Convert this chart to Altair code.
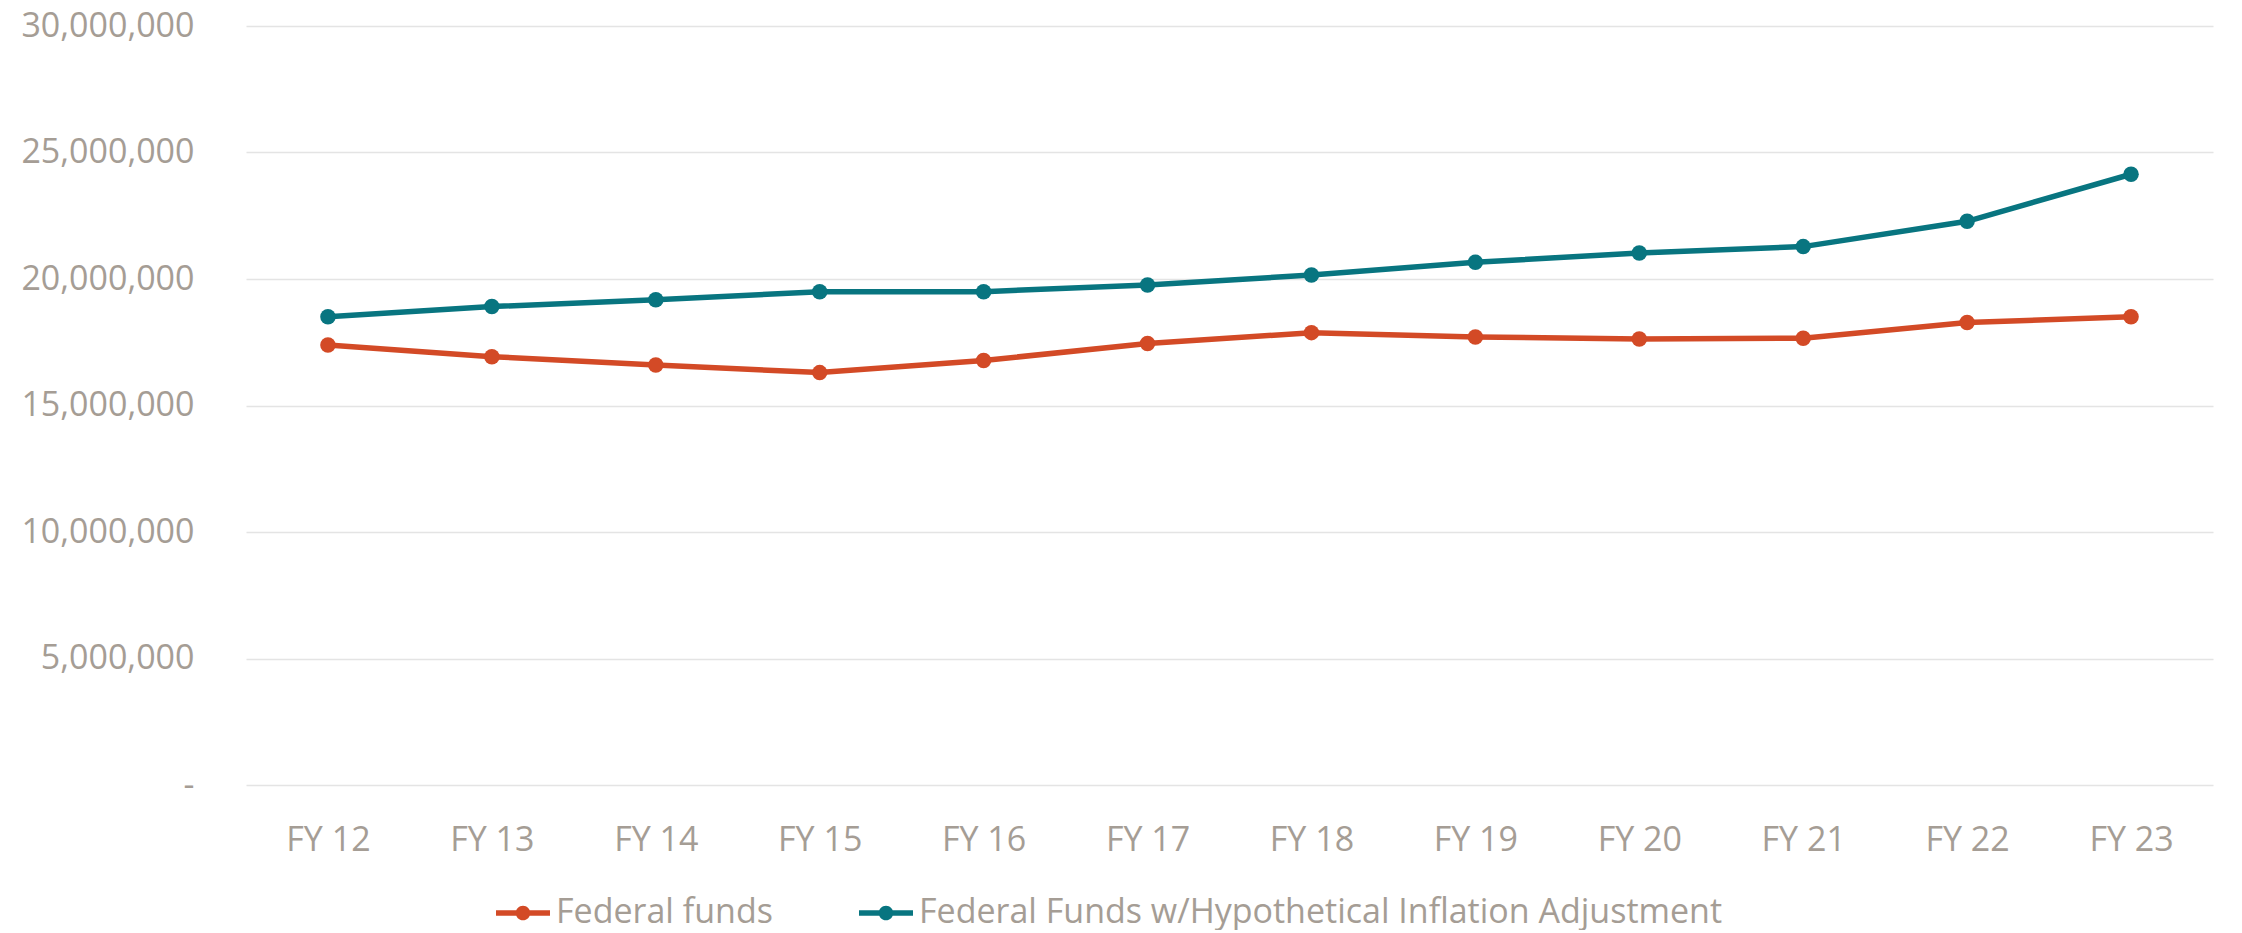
import altair as alt
import pandas as pd

years = ["FY 12", "FY 13", "FY 14", "FY 15", "FY 16", "FY 17",
         "FY 18", "FY 19", "FY 20", "FY 21", "FY 22", "FY 23"]
federal_funds = [17390000, 16930000, 16600000, 16300000, 16780000, 17450000,
                 17880000, 17710000, 17630000, 17660000, 18280000, 18510000]
adjusted_funds = [18510000, 18910000, 19180000, 19500000, 19500000, 19760000,
                  20160000, 20660000, 21030000, 21280000, 22280000, 24140000]
series_names = ["Federal funds", "Federal Funds w/Hypothetical Inflation Adjustment"]
series_colors = ["#D34A26", "#087580"]
y_ticks = [0, 5000000, 10000000, 15000000, 20000000, 25000000, 30000000]

rows = []
for name, vals in zip(series_names, [federal_funds, adjusted_funds]):
    for yr, v in zip(years, vals):
        rows.append({"year": yr, "series": name, "value": v})
df = pd.DataFrame(rows)

FONT = "Open Sans"
TXT = "#A59D95"

legend_path = ("M-1,-0.1L1,-0.1L1,0.1L-1,0.1Z "
               "M0.27,0A0.27,0.27,0,1,1,-0.27,0A0.27,0.27,0,1,1,0.27,0Z")

x_enc = alt.X("year:N", sort=years, title=None,
              scale=alt.Scale(type="point", padding=0.5),
              axis=alt.Axis(labelAngle=0, ticks=False, domain=False, grid=False,
                            labelPadding=38, labelFont=FONT, labelFontSize=34,
                            labelColor=TXT))
y_enc = alt.Y("value:Q", title=None,
              scale=alt.Scale(domain=[0, 30000000], nice=False),
              axis=alt.Axis(values=y_ticks, format=",.0f", ticks=False, domain=False,
                            labelExpr="datum.value == 0 ? '-\u00a0\u00a0\u00a0\u00a0' : datum.label",
                            labelPadding=52, labelFont=FONT, labelFontSize=34,
                            labelColor=TXT, gridColor="#E4E4E4", gridWidth=1.5))
color_scale = alt.Scale(domain=series_names, range=series_colors)
legend = alt.Legend(title=None, orient="none", direction="horizontal",
                    legendX=250, legendY=860,
                    symbolType=legend_path, symbolSize=2916,
                    symbolStrokeWidth=0, symbolOpacity=1,
                    labelFont=FONT, labelFontSize=34, labelColor=TXT,
                    labelOffset=6, columnPadding=86, padding=0,
                    labelLimit=1000)

base = alt.Chart(df)
lines = base.mark_line(strokeWidth=5.5).encode(
    x=x_enc, y=y_enc,
    color=alt.Color("series:N", scale=color_scale, legend=legend),
)
points = base.mark_point(filled=True, size=240, opacity=1).encode(
    x=x_enc, y=y_enc,
    color=alt.Color("series:N", scale=color_scale, legend=legend),
)

chart = alt.layer(lines, points).properties(
    width=1967, height=759,
    padding={"left": 238, "top": 18, "right": 20, "bottom": 145},
    autosize=alt.AutoSizeParams(type="none"),
).configure(background="white").configure_view(stroke=None)

chart.save("out.html", embed_options={"renderer": "svg", "actions": False})
